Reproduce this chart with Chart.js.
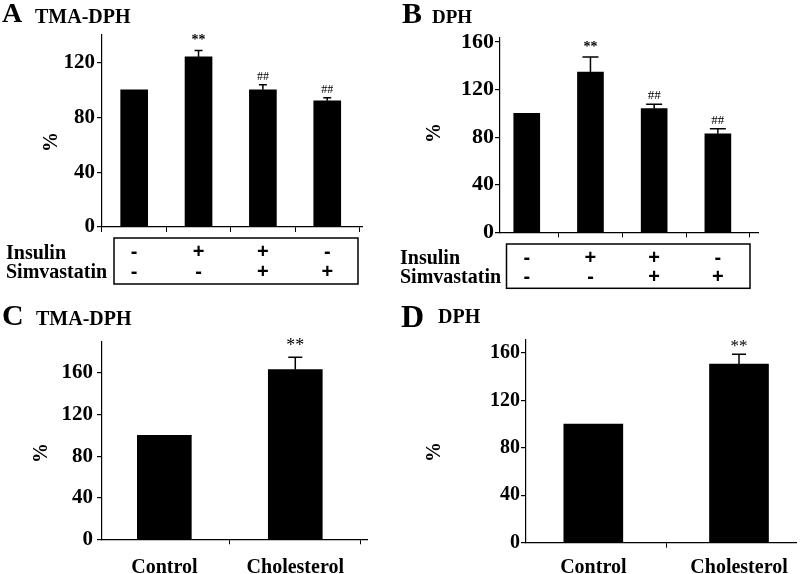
<!DOCTYPE html>
<html>
<head>
<meta charset="utf-8">
<script src="https://cdn.jsdelivr.net/npm/chart.js@4"></script>
<style>
  html, body { margin:0; padding:0; background:#fff; overflow:hidden; }
  #page { position:relative; width:800px; height:574px; }
  canvas { position:absolute; }
  .t { position:absolute; font-family:"Liberation Serif","Times New Roman",serif; font-weight:bold; line-height:1; white-space:nowrap; color:#000; z-index:2; }
  .pct { transform:translate(-50%,-50%) rotate(-90deg); font-size:20px; }
  .row { font-size:20px; }
</style>
</head>
<body>
<div id="page">
  <span class="t" style="left:2px;top:-1px;font-size:28px;">A</span>
  <span class="t" style="left:35px;top:6px;font-size:20px;">TMA-DPH</span>
  <span class="t" style="left:402px;top:-2px;font-size:30px;">B</span>
  <span class="t" style="left:432px;top:7px;font-size:19px;">DPH</span>
  <span class="t" style="left:2px;top:300px;font-size:30px;">C</span>
  <span class="t" style="left:36px;top:308px;font-size:20px;">TMA-DPH</span>
  <span class="t" style="left:401px;top:300px;font-size:32px;">D</span>
  <span class="t" style="left:438px;top:306px;font-size:20px;">DPH</span>

  <span class="t pct" style="left:50px;top:142px;">%</span>
  <span class="t pct" style="left:433px;top:133px;">%</span>
  <span class="t pct" style="left:40px;top:453px;">%</span>
  <span class="t pct" style="left:433px;top:452px;">%</span>

  <span class="t row" id="rA0" style="left:6px;top:241.7px;"></span>
  <span class="t row" id="rA1" style="left:6px;top:261.2px;"></span>
  <span class="t row" id="rB0" style="left:400px;top:246.5px;"></span>
  <span class="t row" id="rB1" style="left:400px;top:266px;"></span>

  <canvas id="cA" width="400" height="290" style="left:0;top:0;"></canvas>
  <canvas id="cB" width="400" height="290" style="left:400px;top:0;"></canvas>
  <canvas id="cC" width="400" height="284" style="left:0;top:290px;"></canvas>
  <canvas id="cD" width="400" height="284" style="left:400px;top:290px;"></canvas>
</div>
<script>
// treatment rows (panels A and B)
const rowLabels = ['Insulin', 'Simvastatin'];
const insulinRow = ['-', '+', '+', '-'];
const simvaRow = ['-', '-', '+', '+'];

// panel A: TMA-DPH
const tmaValues = [100, 124, 100, 92];
const tmaErrors = [0, 4.7, 3.8, 2.2];
const tmaMarks = ['', '**', '##', '##'];
const tmaTicks = [0, 40, 80, 120];

// panel B: DPH
const dphValues = [100, 134.7, 104, 82.8];
const dphErrors = [0, 12.7, 3.7, 4.2];
const dphMarks = ['', '**', '##', '##'];
const dphTicks = [0, 40, 80, 120, 160];

// panels C and D: cholesterol loading
const cholCats = ['Control', 'Cholesterol'];
const cholTmaValues = [100, 163.2];
const cholTmaErrors = [0, 11.8];
const cholDphValues = [100, 150.7];
const cholDphErrors = [0, 8.2];
const cholMarks = ['', '**'];
const cholTicks = [0, 40, 80, 120, 160];

const SERIF = '"Liberation Serif", "Times New Roman", serif';
const SANS = '"Liberation Sans", Arial, sans-serif';

['A', 'B'].forEach(p => rowLabels.forEach((lab, k) => {
  document.getElementById('r' + p + k).textContent = lab;
}));

function decor(cfg){
  return {
    id: 'decor',
    afterDatasetsDraw(chart){
      const {ctx, scales:{x, y}} = chart;
      ctx.save();
      ctx.strokeStyle = '#000'; ctx.fillStyle = '#000';
      ctx.lineWidth = 1.5;
      cfg.values.forEach((v, i) => {
        const e = cfg.errors[i];
        const px = x.getPixelForValue(i);
        const top = y.getPixelForValue(v + e);
        if (e) {
          ctx.beginPath();
          ctx.moveTo(px, y.getPixelForValue(v)); ctx.lineTo(px, top);
          ctx.moveTo(px - cfg.cap, top); ctx.lineTo(px + cfg.cap, top);
          ctx.stroke();
        }
        const m = cfg.marks[i];
        if (m) {
          const star = m === '**';
          ctx.font = star ? cfg.starFont : cfg.hashFont;
          ctx.textAlign = 'center'; ctx.textBaseline = 'alphabetic';
          ctx.fillText(m, px, top - (star ? cfg.starGap : cfg.hashGap));
        }
      });
      const t = cfg.table;
      if (t) {
        ctx.lineWidth = 1.5;
        const l = x.left + t.insetL, r = x.right - t.insetR;
        ctx.strokeRect(l, t.top, r - l, t.bottom - t.top);
        ctx.font = 'bold 20px ' + SANS;
        ctx.textAlign = 'center'; ctx.textBaseline = 'middle';
        [insulinRow, simvaRow].forEach((row, k) => {
          row.forEach((s, i) => ctx.fillText(s, x.getPixelForValue(i), t.rowY[k]));
        });
      }
      ctx.restore();
    }
  };
}

function makeChart(id, p){
  new Chart(document.getElementById(id), {
    type: 'bar',
    data: { datasets: [{
      data: p.values.map((v, i) => ({x: i, y: v})),
      backgroundColor: '#000', borderWidth: 0, barThickness: p.barW
    }]},
    options: {
      responsive: false, devicePixelRatio: 1, animation: false,
      layout: { padding: p.pad },
      plugins: { legend: {display:false}, tooltip: {enabled:false} },
      scales: {
        x: {
          type: 'linear', min: p.xmin, max: p.xmax, offset: false,
          afterBuildTicks: s => { s.ticks = p.values.map((v, i) => ({value: i})); },
          afterFit: s => { s.height = p.xh; },
          grid: { drawOnChartArea: false, drawTicks: true, tickLength: 5, color: '#000', lineWidth: 1 },
          border: { color: '#000', width: 1.2 },
          ticks: {
            autoSkip: false, maxRotation: 0, padding: p.xpad || 0, color: '#000',
            font: { family: SERIF, weight: 'bold', size: 20 },
            callback: v => (p.cats ? p.cats[v] : '')
          }
        },
        y: {
          min: 0, max: p.ymax,
          afterBuildTicks: s => { s.ticks = p.ticks.map(v => ({value: v})); },
          afterFit: s => { s.width = p.yw; },
          grid: { drawOnChartArea: false, drawTicks: true, tickLength: 5, color: '#000', lineWidth: 1.2 },
          border: { color: '#000', width: 1.2 },
          ticks: { padding: p.ypad, color: '#000', font: { family: SERIF, weight: 'bold', size: p.tickSize } }
        }
      }
    },
    plugins: [decor(p)]
  });
}

makeChart('cA', {
  values: tmaValues, errors: tmaErrors, marks: tmaMarks, ticks: tmaTicks,
  ymax: 140, xmin: -0.5, xmax: 3.54, barW: 27, yw: 102, xh: 63,
  pad: {left:0, top:35, right:38, bottom:0}, ypad: 2, tickSize: 21,
  cap: 4, starFont: 'bold 14px ' + SERIF, hashFont: '12px ' + SERIF, starGap: 6, hashGap: 5,
  table: { insetL: 12, insetR: 4, top: 238, bottom: 284, rowY: [252.5, 272] }
});

makeChart('cB', {
  values: dphValues, errors: dphErrors, marks: dphMarks, ticks: dphTicks,
  ymax: 164, xmin: -0.42, xmax: 3.63, barW: 26, yw: 100, xh: 57.7,
  pad: {left:0, top:37.3, right:42, bottom:0}, ypad: 1, tickSize: 22,
  cap: 8, starFont: 'bold 14px ' + SERIF, hashFont: '13px ' + SERIF, starGap: 6, hashGap: 5,
  table: { insetL: 6.5, insetR: 8, top: 244, bottom: 288.3, rowY: [258, 277] }
});

makeChart('cC', {
  values: cholTmaValues, errors: cholTmaErrors, marks: cholMarks, ticks: cholTicks, cats: cholCats,
  ymax: 190, xmin: -0.476, xmax: 1.553, barW: 54, yw: 102, xh: 34.7, xpad: 12,
  pad: {left:0, top:51.7, right:32.3, bottom:0}, ypad: 4, tickSize: 21,
  cap: 7, starFont: '18px ' + SERIF, hashFont: '12px ' + SERIF, starGap: 6, hashGap: 5
});

makeChart('cD', {
  values: cholDphValues, errors: cholDphErrors, marks: cholMarks, ticks: cholTicks, cats: cholCats,
  ymax: 171, xmin: -0.462, xmax: 1.396, barW: 59, yw: 126, xh: 31.3, xpad: 8,
  pad: {left:0, top:50, right:3.3, bottom:0}, ypad: 1, tickSize: 20,
  cap: 7, starFont: '17px ' + SERIF, hashFont: '12px ' + SERIF, starGap: 3, hashGap: 5
});
</script>
</body>
</html>
